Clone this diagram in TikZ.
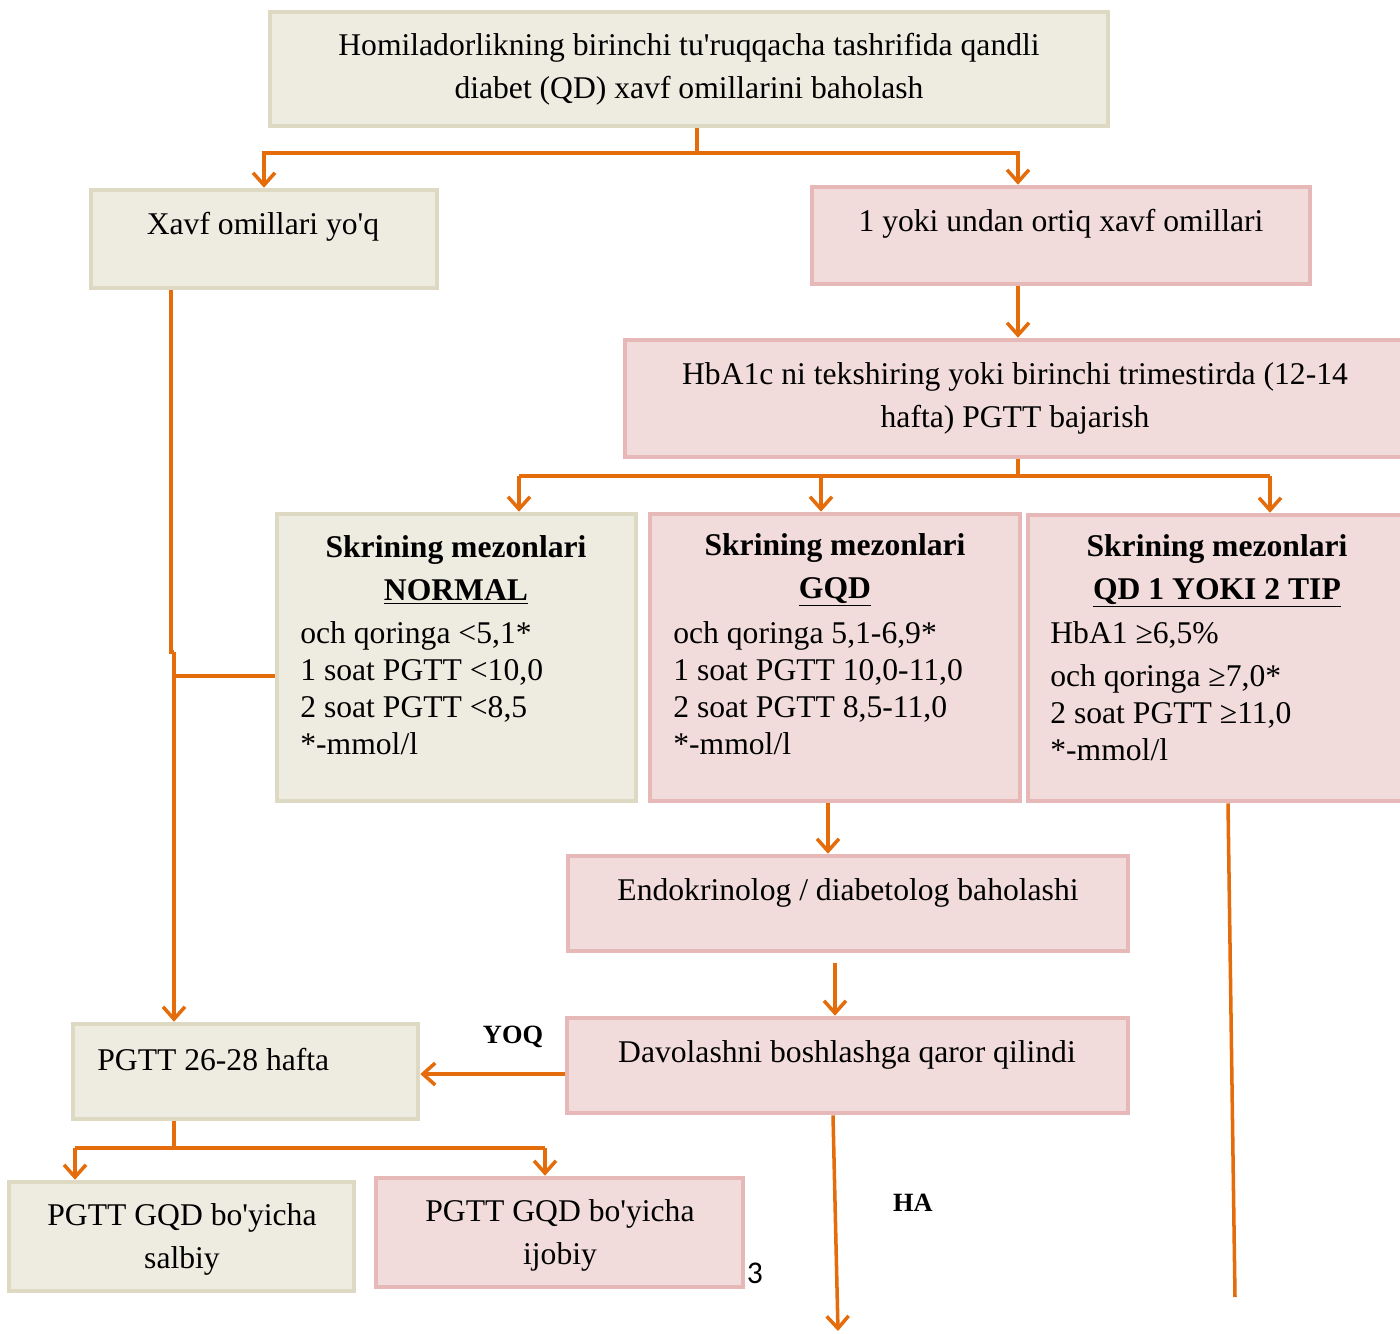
\documentclass[tikz,border=0pt]{standalone}
\usepackage{fontspec}
\setmainfont{Liberation Serif}
\newfontfamily\pagefont{Carlito}
\usetikzlibrary{arrows.meta,fit}

\definecolor{beigefill}{HTML}{EEECE1}
\definecolor{beigeline}{HTML}{DDD9C3}
\definecolor{pinkfill}{HTML}{F2DCDB}
\definecolor{pinkline}{HTML}{E6B9B8}
\definecolor{linkorange}{HTML}{E46C0A}

\begin{document}
\begin{tikzpicture}[x=0.02cm,y=-0.02cm,
  beigebox/.style={draw=beigeline,fill=beigefill,line width=2.6pt,inner sep=0pt},
  pinkbox/.style={draw=pinkline,fill=pinkfill,line width=2.6pt,inner sep=0pt},
  txt/.style={inner sep=0pt,align=center,font=\fontsize{18}{24.5}\selectfont},
  listtxt/.style={inner sep=0pt,align=left,anchor=west,font=\fontsize{18}{21}\selectfont},
  link/.style={draw=linkorange,line width=2pt},
  arrow/.style={link,-{Straight Barb[length=7pt,width=12.5pt,line width=2pt]}},
  tag/.style={inner sep=0pt,font=\fontsize{15}{17}\selectfont\bfseries}]

  \clip (0,0) rectangle (1400,1333);

  % boxes
  \node[beigebox,fit={(270,12) (1108,126)}] (top) {};
  \node[beigebox,fit={(91,190) (437,288)}] (xavf) {};
  \node[pinkbox,fit={(812,187) (1310,284)}] (risk) {};
  \node[pinkbox,fit={(625,340) (1420,457)}] (hba) {};
  \node[beigebox,fit={(277,514) (636,801)}] (normal) {};
  \node[pinkbox,fit={(650,514) (1020,801)}] (gqd) {};
  \node[pinkbox,fit={(1028,515) (1420,801)}] (qd) {};
  \node[pinkbox,fit={(568,856) (1128,951)}] (endo) {};
  \node[pinkbox,fit={(567,1018) (1128,1113)}] (davo) {};
  \node[beigebox,fit={(73,1024) (418,1119)}] (pg) {};
  \node[beigebox,fit={(9,1182) (354,1291)}] (neg) {};
  \node[pinkbox,fit={(376,1178) (743,1287)}] (pos) {};

  % texts
  \node[txt] (toptxt) at (689,69) {Homiladorlikning birinchi tu\textquotesingle ruqqacha tashrifida qandli\\diabet (QD) xavf omillarini baholash};
  \node[txt] (xavftxt) at (263,227) {Xavf omillari yo\textquotesingle q};
  \node[txt] (risktxt) at (1061,224) {1 yoki undan ortiq xavf omillari};
  \node[txt] (hbatxt) at (1015,398) {HbA1c ni tekshiring yoki birinchi trimestirda (12-14\\hafta) PGTT bajarish};

  \node[txt,font=\fontsize{18}{24.5}\selectfont\bfseries] (normalhead) at (456,570) {Skrining mezonlari\\\underline{NORMAL}};
  \node[listtxt] (normallist) at (300,688) {och qoringa <5,1*\\1 soat PGTT <10,0\\2 soat PGTT <8,5\\*-mmol/l};

  \node[txt,font=\fontsize{18}{24.5}\selectfont\bfseries] (gqdhead) at (835,570) {Skrining mezonlari\\\underline{GQD}};
  \node[listtxt] (gqdlist) at (673,688) {och qoringa 5,1-6,9*\\1 soat PGTT 10,0-11,0\\2 soat PGTT 8,5-11,0\\*-mmol/l};

  \node[txt,font=\fontsize{18}{24.5}\selectfont\bfseries] (qdhead) at (1217,571) {Skrining mezonlari\\\underline{QD 1 YOKI 2 TIP}};
  \node[listtxt] (qdlist) at (1050,691) {HbA1 ≥6,5\%\\[3.5pt]och qoringa ≥7,0*\\2 soat PGTT ≥11,0\\*-mmol/l};

  \node[txt] (endotxt) at (848,893) {Endokrinolog / diabetolog baholashi};
  \node[txt] (davotxt) at (847,1055) {Davolashni boshlashga qaror qilindi};
  \node[txt,anchor=west] (pgtxt) at (97,1060) {PGTT 26-28 hafta};
  \node[txt] (negtxt) at (182,1239) {PGTT GQD bo\textquotesingle yicha\\salbiy};
  \node[txt] (postxt) at (560,1235) {PGTT GQD bo\textquotesingle yicha\\ijobiy};

  \node[tag] (yoq) at (513,1037) {YOQ};
  \node[tag] (ha) at (913,1203) {HA};
  \node[inner sep=0pt,font=\pagefont\fontsize{18}{20}\selectfont] (pagenum) at (755,1273) {3};

  % connectors
  \coordinate (s1) at (697,153);
  \coordinate (r1) at (1018,153);
  \draw[link] (s1 |- top.south) -- (s1);
  \draw[arrow] (s1) -| (xavf.north);
  \draw[arrow] (s1) -- (r1) -- (r1 |- risk.north);

  \draw[arrow] (r1 |- risk.south) -- (r1 |- hba.north);

  \coordinate (s2) at (1018,476);
  \coordinate (b1) at (519,476);
  \coordinate (b2) at (821,476);
  \coordinate (b3) at (1270,476);
  \draw[link] (s2 |- hba.south) -- (s2);
  \draw[link] (b1) -- (b3);
  \draw[arrow] (b1) -- (b1 |- normal.north);
  \draw[arrow] (b2) -- (b2 |- gqd.north);
  \draw[arrow] (b3) -- (b3 |- qd.north);

  \coordinate (v1) at (171,652);
  \coordinate (v2) at (174,652);
  \coordinate (j1) at (174,676);
  \draw[link] (v1 |- xavf.south) -- (v1) -- (v2);
  \draw[arrow] (v2) -- (v2 |- pg.north);
  \draw[link] (j1) -- (j1 -| normal.west);

  \coordinate (e1) at (828,801);
  \draw[arrow] (e1 |- gqd.south) -- (e1 |- endo.north);

  \coordinate (d1) at (835,963);
  \draw[arrow] (d1) -- (d1 |- davo.north);

  \coordinate (y1) at (567,1074);
  \draw[arrow] (y1 -| davo.west) -- (y1 -| pg.east);

  \coordinate (s3) at (174,1148);
  \coordinate (c1) at (75,1148);
  \coordinate (c2) at (545,1148);
  \draw[link] (s3 |- pg.south) -- (s3);
  \draw[link] (c1) -- (c2);
  \draw[arrow] (c1) -- (c1 |- neg.north);
  \draw[arrow] (c2) -- (c2 |- pos.north);

  \coordinate (h1) at (833,1113);
  \coordinate (h2) at (838,1331);
  \draw[arrow] (h1 |- davo.south) -- (h2);

  \coordinate (q1) at (1228,805);
  \coordinate (q2) at (1235,1297);
  \draw[link] (q1 |- qd.south) -- (q2);

\end{tikzpicture}
\end{document}
